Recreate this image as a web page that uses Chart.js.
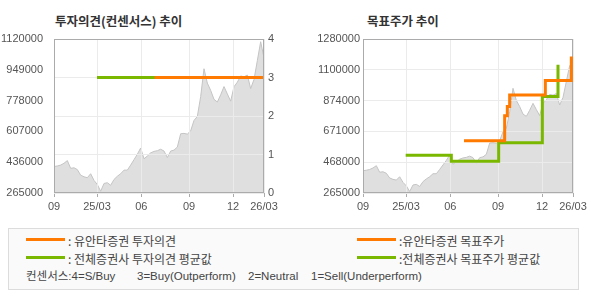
<!DOCTYPE html>
<html><head><meta charset="utf-8">
<script src="https://cdn.jsdelivr.net/npm/chart.js@4/dist/chart.umd.min.js"></script>
<style>
html,body{margin:0;padding:0;background:#fff;}
#wrap{position:relative;width:590px;height:300px;overflow:hidden;}
canvas{position:absolute;top:0;}
.t{position:absolute;white-space:pre;font-family:"Noto Sans CJK KR",sans-serif;color:#333;}
.title{font-size:12.5px;font-weight:bold;line-height:15px;top:13px;}
#legend{position:absolute;left:8px;top:228px;width:569px;height:60px;border:1px solid #DCDCDC;background:#FAFAFA;}
.lg{position:absolute;height:3px;width:39px;}
.lt{font-size:12px;line-height:14px;color:#444;}
.ls{font-family:"Liberation Sans","Noto Sans CJK KR",sans-serif;font-size:11.5px;line-height:14px;color:#444;}
</style></head>
<body>
<div id="wrap">
  <div class="t title" style="left:55px">투자의견(컨센서스) 추이</div>
  <div class="t title" style="left:367px">목표주가 추이</div>
  <canvas id="c1" width="295" height="220" style="left:0;width:295px;height:220px"></canvas>
  <canvas id="c2" width="295" height="220" style="left:295px;width:295px;height:220px"></canvas>
  <div id="legend"></div>
</div>
<script>
// ---- data ----
const xTickPos    = [0, 12.9, 26.2, 40.5, 53.7, 63];
const xTickLabels = ['09', '25/03', '06', '09', '12', '26/03'];

const priceValues = [
  412000, 415000, 420000, 430000, 445000, 402000, 405000, 395000, 364000, 355000,
  350000, 372000, 335000, 312000, 275000, 318000, 322000, 308000, 340000, 358000,
  372000, 392000, 392000, 420000, 450000, 480000, 515000, 455000, 470000, 488000,
  496000, 500000, 508000, 498000, 462000, 498000, 503000, 520000, 594000, 596000,
  592000, 610000, 668000, 690000, 800000, 955000, 875000, 835000, 785000, 770000,
  810000, 856000, 815000, 775000, 855000, 880000, 915000, 910000, 920000, 845000,
  895000, 1000000, 1105000, 1015000
];

const opinionPriceTicks  = [265000, 436000, 607000, 778000, 949000, 1120000];
const opinionPriceLabels = ['265000', '436000', '607000', '778000', '949000', '1120000'];
const consensusTicks     = [0, 1, 2, 3, 4];
const consensusLabels    = ['0', '1', '2', '3', '4'];

const avgOpinionX     = [12.9, 62.7];
const avgOpinion      = [3, 3];
const yuantaOpinionX  = [30.2, 62.7];
const yuantaOpinion   = [3, 3];

const targetTicks  = [265000, 468000, 671000, 874000, 1077000, 1280000];
const targetLabels = ['265000', '468000', '671000', '874000', '1100000', '1280000'];

const avgTargetX    = [12.8, 26.5, 40.7, 53.8, 58.5];
const avgTarget     = [514000, 474600, 596000, 900500, 1110000];
const yuantaTargetX = [30.3, 42.5, 43.3, 44.0, 54.7, 62.5];
const yuantaTarget  = [609000, 774700, 834300, 911500, 1006400, 1165000];

const legendLeft  = [': 유안타증권 투자의견', ': 전체증권사 투자의견 평균값'];
const legendRight = [':유안타증권 목표주가', ':전체증권사 목표주가 평균값'];
const legendNote  = ['컨센서스:4=S/Buy', '3=Buy(Outperform)', '2=Neutral', '1=Sell(Underperform)'];

// ---- styles ----
const ORANGE = '#FF7A00', GREEN = '#7AB800';
const GRID = '#EBEBEB', FRAME = '#ABABAB', TICKC = '#555';
const tickFont = {family: '"Liberation Sans", Arial, sans-serif', size: 11};

const pts = (xs, ys) => xs.map((x, i) => ({x, y: ys[i]}));
const pricePts = priceValues.map((v, i) => ({x: i, y: v}));

const overlay = {
  id: 'overlay',
  afterDatasetDraw(chart, args) {
    if (chart.data.datasets[args.index].label !== 'price') return;
    const ctx = chart.ctx, a = chart.chartArea;
    ctx.save();
    Object.values(chart.scales).forEach(s => { if (s.options.grid.display) s.drawGrid(a); });
    ctx.strokeStyle = FRAME; ctx.lineWidth = 1;
    const l = Math.round(a.left), t = Math.round(a.top), r = Math.round(a.right), b = Math.round(a.bottom);
    ctx.strokeRect(l + 0.5, t + 0.5, r - l - 1, b - t - 1);
    ctx.restore();
  }
};

function xScale() {
  return {
    type: 'linear', min: 0, max: 63,
    afterBuildTicks: s => { s.ticks = xTickPos.map(v => ({value: v})); },
    afterFit: s => { s.height = 27; },
    grid: {display: true, color: GRID, lineWidth: 1, drawTicks: true, tickLength: 4, tickColor: FRAME, tickWidth: 1},
    border: {display: false},
    ticks: {autoSkip: false, maxRotation: 0, padding: 3, color: TICKC, font: tickFont,
            callback: (v, i) => xTickLabels[i]}
  };
}

function priceDataset(axis) {
  return {label: 'price', data: pricePts, yAxisID: axis, order: 10,
    borderColor: '#C4C4C4', borderWidth: 1, backgroundColor: '#DFDFDF',
    fill: 'start', pointRadius: 0, tension: 0};
}
function lineDs(label, data, color, axis, order, stepped) {
  return {label, data, yAxisID: axis, order, borderColor: color, borderWidth: 3,
    pointRadius: 0, fill: false, stepped: stepped, tension: 0, borderCapStyle: 'butt'};
}

const common = {
  responsive: false, animation: false, devicePixelRatio: 1,
  plugins: {legend: {display: false}, tooltip: {enabled: false}},
  events: []
};

new Chart(document.getElementById('c1'), {
  type: 'line',
  data: {datasets: [
    priceDataset('yL'),
    lineDs('avgOpinion', pts(avgOpinionX, avgOpinion), GREEN, 'yR', 2, false),
    lineDs('yuantaOpinion', pts(yuantaOpinionX, yuantaOpinion), ORANGE, 'yR', 1, false)
  ]},
  options: Object.assign({}, common, {
    layout: {padding: {top: 39, left: 0, right: 0, bottom: 0}},
    scales: {
      x: xScale(),
      yL: {type: 'linear', position: 'left', min: 265000, max: 1120000,
        afterBuildTicks: s => { s.ticks = opinionPriceTicks.map(v => ({value: v})); },
        afterFit: s => { s.width = 54; },
        grid: {display: false}, border: {display: false},
        ticks: {padding: 3, color: TICKC, font: tickFont, callback: (v, i) => opinionPriceLabels[i]}},
      yR: {type: 'linear', position: 'right', min: 0, max: 4,
        afterBuildTicks: s => { s.ticks = consensusTicks.map(v => ({value: v})); },
        afterFit: s => { s.width = 31; },
        grid: {display: true, color: GRID, lineWidth: 1, drawTicks: false}, border: {display: false},
        ticks: {padding: 4, color: TICKC, font: tickFont, callback: (v, i) => consensusLabels[i]}}
    }
  }),
  plugins: [overlay]
});

new Chart(document.getElementById('c2'), {
  type: 'line',
  data: {datasets: [
    priceDataset('y'),
    lineDs('avgTarget', pts(avgTargetX, avgTarget), GREEN, 'y', 2, true),
    lineDs('yuantaTarget', pts(yuantaTargetX, yuantaTarget), ORANGE, 'y', 1, true)
  ]},
  options: Object.assign({}, common, {
    layout: {padding: {top: 39, left: 0, right: 17, bottom: 0}},
    scales: {
      x: xScale(),
      y: {type: 'linear', position: 'left', min: 265000, max: 1280000,
        afterBuildTicks: s => { s.ticks = targetTicks.map(v => ({value: v})); },
        afterFit: s => { s.width = 68; },
        grid: {display: true, color: GRID, lineWidth: 1, drawTicks: false}, border: {display: false},
        ticks: {padding: 3, color: TICKC, font: tickFont, callback: (v, i) => targetLabels[i]}}
    }
  }),
  plugins: [overlay]
});

// ---- legend ----
const lg = document.getElementById('legend');
function add(html) { lg.insertAdjacentHTML('beforeend', html); }
// positions relative to legend box (left 8, top 228, border 1)
const rowsY = [11, 29];
const colors = [ORANGE, GREEN];
[0, 1].forEach(r => {
  add(`<div class="lg" style="left:17px;top:${rowsY[r] - 2.5}px;background:${colors[r]}"></div>`);
  add(`<div class="t lt" style="left:59px;top:${rowsY[r] - 6}px">${legendLeft[r]}</div>`);
  add(`<div class="lg" style="left:348px;top:${rowsY[r] - 2.5}px;background:${colors[r]}"></div>`);
  add(`<div class="t lt" style="left:390px;top:${rowsY[r] - 6}px">${legendRight[r]}</div>`);
});
const noteX = [17, 128, 239, 302];
legendNote.forEach((s, i) => add(`<div class="t ls" style="left:${noteX[i]}px;top:40px">${s}</div>`));
</script>
</body></html>
